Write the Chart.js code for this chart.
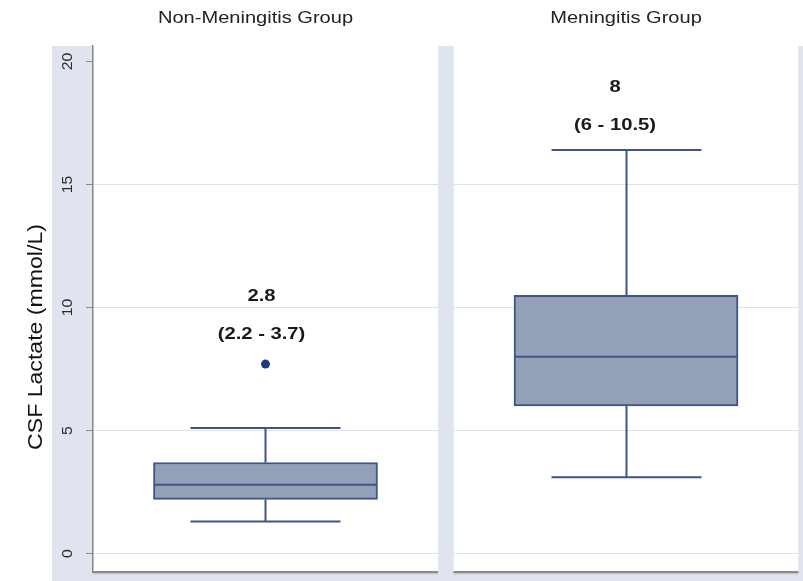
<!DOCTYPE html>
<html>
<head>
<meta charset="utf-8">
<script src="https://cdn.jsdelivr.net/npm/chart.js@4"></script>
<style>
  html, body { margin: 0; padding: 0; background: #ffffff; }
  canvas { display: block; }
</style>
</head>
<body>
<canvas id="chart" width="803" height="581"></canvas>
<script>
// CSF lactate by group: box plot summaries
const groups = ['Non-Meningitis Group', 'Meningitis Group'];
const lowerWhisker = [1.3, 3.1];
const q1 = [2.2, 6];
const median = [2.8, 8];
const q3 = [3.7, 10.5];
const upperWhisker = [5.1, 16.4];
const outlierGroup = [0];
const outlierValue = [7.7];
const yTicks = [0, 5, 10, 15, 20];
const yTitle = 'CSF Lactate (mmol/L)';

const FONT = "'Liberation Sans', Arial, Helvetica, sans-serif";
const BOX_FILL = '#94a0b8';
const BOX_LINE = '#3e5486';
const FRAME_BG = '#dfe4ee';
const GRID = '#dce2ee';

// each group lives in its own panel along a 0..2 x range, split by a narrow band
const GAP = 0.022;
const panelCenter = i => (i === 0 ? (1 - GAP) / 2 : 1 + GAP + (1 - GAP) / 2);

const boxData = groups.map((g, i) => ({ x: panelCenter(i), y: [q1[i], q3[i]] }));
const outlierData = outlierGroup.map((g, k) => ({ x: panelCenter(g), y: outlierValue[k] }));

const boxPlotPlugin = {
  id: 'boxPlotPlugin',
  beforeDraw(chart) {
    const { ctx, chartArea: a, scales: { x } } = chart;
    const sepL = x.getPixelForValue(1 - GAP), sepR = x.getPixelForValue(1 + GAP);
    ctx.save();
    ctx.fillStyle = '#ffffff';
    ctx.fillRect(0, 0, chart.width, chart.height);
    ctx.fillStyle = FRAME_BG;
    ctx.fillRect(52, a.top, chart.width - 52, chart.height - a.top);
    ctx.fillStyle = '#ffffff';
    ctx.fillRect(a.left, a.top, sepL - a.left, a.bottom - a.top);
    ctx.fillRect(sepR, a.top, a.right - sepR, a.bottom - a.top);
    ctx.restore();
  },
  beforeDatasetsDraw(chart) {
    const { ctx, chartArea: a, scales: { x, y } } = chart;
    const sepL = x.getPixelForValue(1 - GAP), sepR = x.getPixelForValue(1 + GAP);
    ctx.save();
    // band between the panels
    ctx.fillStyle = FRAME_BG;
    ctx.fillRect(sepL, a.top, sepR - sepL, chart.height - a.top);
    // bottom axis line under each panel
    ctx.fillStyle = '#c6c9d1';
    ctx.fillRect(a.left, a.bottom + 1, sepL - a.left, 1.5);
    ctx.fillRect(sepR, a.bottom + 1, a.right - sepR, 1.5);
    ctx.fillStyle = '#8a8a8a';
    ctx.fillRect(a.left, a.bottom - 1, sepL - a.left, 2);
    ctx.fillRect(sepR, a.bottom - 1, a.right - sepR, 2);
    // faint right edge of the second panel
    ctx.fillStyle = '#e4e4f0';
    ctx.fillRect(a.right, a.top, 1, a.bottom - a.top);
    // y tick labels, read upward
    ctx.fillStyle = '#2b2b2b';
    ctx.font = '15px ' + FONT;
    ctx.textAlign = 'center';
    ctx.textBaseline = 'middle';
    y.ticks.forEach(t => {
      ctx.save();
      ctx.translate(a.left - 25, y.getPixelForValue(t.value));
      ctx.rotate(-Math.PI / 2);
      ctx.scale(1.05, 1);
      ctx.fillText(String(t.value), 0, 0);
      ctx.restore();
    });
    // y axis title
    ctx.save();
    ctx.fillStyle = '#111111';
    ctx.font = '21px ' + FONT;
    ctx.translate(36, 337);
    ctx.rotate(-Math.PI / 2);
    ctx.scale(1.1, 1);
    ctx.fillText(yTitle, 0, 0);
    ctx.restore();
    ctx.restore();
  },
  afterDatasetsDraw(chart) {
    const { ctx, scales: { x, y } } = chart;
    const capHalf = 75;
    const boxHalf = 111.5;
    ctx.save();
    ctx.strokeStyle = BOX_LINE;
    groups.forEach((g, i) => {
      const cx = Math.round(x.getPixelForValue(panelCenter(i))) + 0.5;
      const lo = y.getPixelForValue(lowerWhisker[i]);
      const hi = y.getPixelForValue(upperWhisker[i]);
      const b1 = y.getPixelForValue(q1[i]);
      const b3 = y.getPixelForValue(q3[i]);
      const md = y.getPixelForValue(median[i]);
      ctx.lineWidth = 2;
      ctx.beginPath();
      ctx.moveTo(cx, b1); ctx.lineTo(cx, lo);
      ctx.moveTo(cx, b3); ctx.lineTo(cx, hi);
      ctx.moveTo(cx - capHalf, lo); ctx.lineTo(cx + capHalf, lo);
      ctx.moveTo(cx - capHalf, hi); ctx.lineTo(cx + capHalf, hi);
      ctx.stroke();
      ctx.beginPath();
      ctx.moveTo(cx - boxHalf, md); ctx.lineTo(cx + boxHalf, md);
      ctx.stroke();
    });
    // median and interquartile range annotations
    const labelShift = [-4, -11];
    const labelY = [[10.45, 8.9], [18.95, 17.4]];
    ctx.fillStyle = '#1a1a1a';
    ctx.font = 'bold 17px ' + FONT;
    ctx.textAlign = 'center';
    ctx.textBaseline = 'middle';
    groups.forEach((g, i) => {
      const cx = x.getPixelForValue(panelCenter(i)) + labelShift[i];
      const lines = [String(median[i]), '(' + q1[i] + ' - ' + q3[i] + ')'];
      lines.forEach((txt, k) => {
        ctx.save();
        ctx.translate(cx, y.getPixelForValue(labelY[i][k]));
        ctx.scale(1.19, 1);
        ctx.fillText(txt, 0, 0);
        ctx.restore();
      });
    });
    ctx.restore();
  },
  afterDraw(chart) {
    const { ctx, scales: { x } } = chart;
    ctx.save();
    ctx.fillStyle = '#222222';
    ctx.font = '17px ' + FONT;
    ctx.textAlign = 'center';
    ctx.textBaseline = 'middle';
    groups.forEach((g, i) => {
      ctx.save();
      ctx.translate(x.getPixelForValue(panelCenter(i)) - 10 * (1 - i), 18);
      ctx.scale(1.18, 1);
      ctx.fillText(g, 0, 0);
      ctx.restore();
    });
    ctx.restore();
  }
};

new Chart(document.getElementById('chart'), {
  data: {
    datasets: [
      {
        type: 'bar',
        label: 'IQR',
        data: boxData,
        backgroundColor: BOX_FILL,
        borderColor: BOX_LINE,
        borderWidth: 2,
        borderSkipped: false,
        barThickness: 224
      },
      {
        type: 'scatter',
        label: 'Outside values',
        data: outlierData,
        backgroundColor: '#1f3d7c',
        borderWidth: 0,
        pointRadius: 4.5
      }
    ]
  },
  options: {
    responsive: false,
    animation: false,
    layout: { padding: { left: 0, right: 1, top: 46, bottom: 9 } },
    plugins: { legend: { display: false }, tooltip: { enabled: false }, title: { display: false } },
    scales: {
      x: { type: 'linear', min: 0, max: 2, display: false, offset: false },
      y: {
        type: 'linear',
        min: -0.75,
        max: 20.63,
        afterBuildTicks: s => { s.ticks = yTicks.map(v => ({ value: v })); },
        afterFit: s => { s.width = 93; },
        ticks: { display: false },
        grid: {
          color: c => (c.tick && c.tick.value === 20 ? 'rgba(0,0,0,0)' : GRID),
          lineWidth: 1,
          drawTicks: true,
          tickLength: 7,
          tickColor: '#8a8a8a'
        },
        border: { display: true, color: '#858585', width: 1.5 }
      }
    }
  },
  plugins: [boxPlotPlugin]
});
</script>
</body>
</html>
